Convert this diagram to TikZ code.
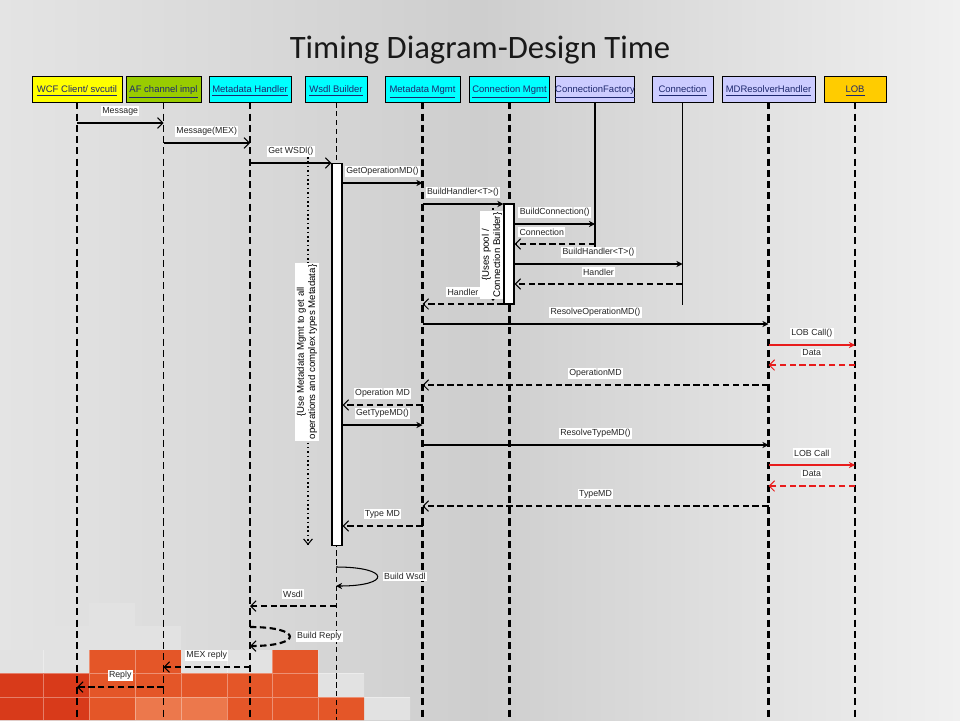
\documentclass[tikz,border=0pt]{standalone}
\usepackage{fontspec}
\setmainfont{Liberation Sans}
\newfontfamily\slidefont{Carlito}
\usetikzlibrary{arrows.meta}
\definecolor{hdrYellow}{RGB}{255,255,0}
\definecolor{hdrGreen}{RGB}{153,204,0}
\definecolor{hdrCyan}{RGB}{0,255,255}
\definecolor{hdrLilac}{RGB}{204,204,255}
\definecolor{hdrGold}{RGB}{255,204,0}
\definecolor{linkText}{RGB}{30,40,110}
\definecolor{bgLeft}{RGB}{228,228,228}
\definecolor{bgMid}{RGB}{206,206,206}
\definecolor{bgRight}{RGB}{240,240,240}
\definecolor{tileLight}{RGB}{226,226,226}
\definecolor{tileRed}{RGB}{216,58,26}
\definecolor{tileOrange}{RGB}{228,86,40}
\definecolor{tilePale}{RGB}{236,120,76}
\definecolor{lobRed}{RGB}{232,28,28}
\tikzset{
    header/.style={draw=black, line width=0.5pt, minimum height=0.52cm, inner sep=0pt,
        text height=3.9pt, text depth=0pt, font=\fontsize{5.4}{6}\selectfont, text=linkText},
    lifeline/.style={line width=1pt, dash pattern=on 4pt off 2.4pt},
    thinlife/.style={line width=0.55pt, dash pattern=on 3pt off 2pt},
    activation/.style={draw=black, fill=white, line width=0.6pt, minimum width=0.2cm, inner sep=0pt},
    call/.style={line width=0.6pt, -{Stealth[length=3.5pt,width=3.5pt]}},
    signal/.style={line width=0.6pt, -{Straight Barb[length=3pt,width=6pt]}},
    reply/.style={line width=1.2pt, dash pattern=on 3.6pt off 2pt,
        -{Straight Barb[length=3pt,width=6pt,line width=0.6pt]}},
    lightreply/.style={line width=0.7pt, dash pattern=on 3.6pt off 2pt,
        -{Straight Barb[length=3pt,width=6pt,line width=0.6pt]}},
    msg/.style={fill=white, inner sep=0.8pt, font=\fontsize{5}{6}\selectfont, text=black!85},
    note/.style={fill=white, inner sep=1pt, align=center, rotate=90,
        font=\fontsize{5.5}{6.4}\selectfont},
    notetrace/.style={line width=0.9pt, dash pattern=on 0.9pt off 1.6pt,
        -{Straight Barb[length=3pt,width=5pt,line width=0.6pt]}}
}
\begin{document}
\begin{tikzpicture}[x=0.02cm, y=-0.02cm]
\useasboundingbox (0,0) rectangle (960,720);
% slide background
\shade[left color=bgLeft, right color=bgRight, middle color=bgMid] (0,0) rectangle (960,720);
\fill[tileLight] (89,603) rectangle +(46,23.5) (43,626) rectangle +(46,24) (89,626) rectangle +(46,24)
    (135,626) rectangle +(46,24) (0,650) rectangle +(43,23) (43,650) rectangle +(46,23)
    (181,650) rectangle +(46,23) (227,650) rectangle +(45,23) (318,673) rectangle +(46,24)
    (364,697) rectangle +(46,23);
\fill[tileOrange] (89,650) rectangle +(46,23) (135,650) rectangle +(46,23) (272,650) rectangle +(46,23)
    (89,673) rectangle +(46,24) (135,673) rectangle +(46,24) (181,673) rectangle +(46,24)
    (227,673) rectangle +(45,24) (272,673) rectangle +(46,24) (89,697) rectangle +(46,23)
    (227,697) rectangle +(45,23) (272,697) rectangle +(46,23) (318,697) rectangle +(46,23);
\fill[tileRed] (0,673) rectangle +(43,24) (43,673) rectangle +(46,24) (0,697) rectangle +(43,23)
    (43,697) rectangle +(46,23);
\fill[tilePale] (135,697) rectangle +(46,23) (181,697) rectangle +(46,23);
\draw[white, opacity=0.35, line width=0.4pt] (0,673) -- (364,673) (0,697) -- (410,697)
    (43,650) -- (43,720) (89,650) -- (89,720) (135,650) -- (135,720) (181,650) -- (181,720)
    (227,650) -- (227,720) (272,650) -- (272,720) (318,650) -- (318,720);

\node[font=\slidefont\fontsize{18.6}{21}\selectfont, text=black!90] (title) at (480,50) {Timing Diagram-Design Time};

% objects
\node[header, fill=hdrYellow, minimum width=1.8cm] (wcf) at (77,89) {\underline{WCF Client/ svcutil}};
\node[header, fill=hdrGreen, minimum width=1.5cm] (af) at (163.5,89) {\underline{AF channel impl}};
\node[header, fill=hdrCyan, minimum width=1.64cm] (mdh) at (250,89) {\underline{Metadata Handler}};
\node[header, fill=hdrCyan, minimum width=1.24cm] (wsdl) at (336,89) {\underline{Wsdl Builder}};
\node[header, fill=hdrCyan, minimum width=1.5cm] (mdm) at (422.5,89) {\underline{Metadata Mgmt}};
\node[header, fill=hdrCyan, minimum width=1.6cm] (cm) at (509.5,89) {\underline{Connection Mgmt}};
\node[header, fill=hdrLilac, minimum width=1.56cm] (cf) at (595,89) {\underline{ConnectionFactory}};
\node[header, fill=hdrLilac, minimum width=1.22cm] (conn) at (682.5,89) {\underline{Connection}};
\node[header, fill=hdrLilac, minimum width=1.86cm] (mdr) at (768.5,89) {\underline{MDResolverHandler}};
\node[header, fill=hdrGold, minimum width=1.24cm] (lob) at (855,89) {\underline{LOB}};

\coordinate (bot) at (0,720);
\coordinate (cfend) at (0,257);
\coordinate (connend) at (0,305);
\draw[lifeline] (wcf) -- (wcf |- bot);
\draw[lifeline] (af) -- (af |- bot);
\draw[lifeline] (mdh) -- (mdh |- bot);
\draw[thinlife] (wsdl) -- (wsdl |- bot);
\draw[lifeline, line width=1.2pt] (mdm) -- (mdm |- bot);
\draw[lifeline, line width=1.2pt] (cm) -- (cm |- bot);
\draw[line width=0.6pt] (cf) -- (cf |- cfend);
\draw[line width=0.6pt] (conn) -- (conn |- connend);
\draw[lifeline, line width=1.2pt] (mdr) -- (mdr |- bot);
\draw[lifeline, line width=1.2pt] (lob) -- (lob |- bot);

% notes
\coordinate (usetop) at (308,157);
\coordinate (usebot) at (308,545);
\draw[notetrace] (usetop) -- (usebot);
\node[note] (usemgmt) at (307,352) {\{Use Metadata Mgmt to get all\\operations and complex types Metadata\}};
\coordinate (pooltop) at (493,208);
\coordinate (poolbot) at (493,301);
\draw[notetrace] (pooltop) -- (poolbot);
\node[note] (usespool) at (492,255) {\{Uses pool /\\Connection Builder\}};

\node[activation, minimum height=7.66cm] (act1) at (337,354.5) {};
\node[activation, minimum height=2cm] (act2) at (509,254) {};

% message rows
\coordinate (m1) at (0,123);  \coordinate (m2) at (0,143);  \coordinate (m3) at (0,163);
\coordinate (m4) at (0,183);  \coordinate (m5) at (0,204);  \coordinate (m6) at (0,224);
\coordinate (m7) at (0,244);  \coordinate (m8) at (0,264);  \coordinate (m9) at (0,284);
\coordinate (m10) at (0,304); \coordinate (m11) at (0,324); \coordinate (m12) at (0,345);
\coordinate (m13) at (0,365); \coordinate (m14) at (0,385); \coordinate (m15) at (0,405);
\coordinate (m16) at (0,425); \coordinate (m17) at (0,445); \coordinate (m18) at (0,465);
\coordinate (m19) at (0,486); \coordinate (m20) at (0,506); \coordinate (m21) at (0,526);
\coordinate (m22) at (0,567); \coordinate (m22b) at (0,586); \coordinate (m23) at (0,606);
\coordinate (m24) at (0,627); \coordinate (m24b) at (0,646); \coordinate (m25) at (0,667);
\coordinate (m26) at (0,687);

\draw[signal] (wcf |- m1) -- node[msg, yshift=0.24cm] {Message} (af |- m1);
\draw[signal] (af |- m2) -- node[msg, yshift=0.24cm] {Message(MEX)} (mdh |- m2);
\draw[signal] (mdh |- m3) -- node[msg, yshift=0.24cm] {Get WSDl()} (act1.west |- m3);
\draw[call] (act1.east |- m4) -- node[msg, yshift=0.24cm] {GetOperationMD()} (mdm |- m4);
\draw[call] (mdm |- m5) -- node[msg, yshift=0.24cm] {BuildHandler<T>()} (act2.west |- m5);
\draw[call] (act2.east |- m6) -- node[msg, yshift=0.24cm] {BuildConnection()} (cf |- m6);
\draw[reply] (cf |- m7) -- node[msg, yshift=0.24cm, xshift=-0.26cm] {Connection} (act2.east |- m7);
\draw[call] (act2.east |- m8) -- node[msg, yshift=0.24cm] {BuildHandler<T>()} (conn |- m8);
\draw[lightreply] (conn |- m9) -- node[msg, yshift=0.24cm] {Handler} (act2.east |- m9);
\draw[reply] (act2.west |- m10) -- node[msg, yshift=0.24cm] {Handler} (mdm |- m10);
\draw[call] (mdm |- m11) -- node[msg, yshift=0.24cm] {ResolveOperationMD()} (mdr |- m11);
\draw[call, lobRed] (mdr |- m12) -- node[msg, yshift=0.24cm] {LOB Call()} (lob |- m12);
\draw[reply, lobRed] (lob |- m13) -- node[msg, yshift=0.24cm] {Data} (mdr |- m13);
\draw[reply] (mdr |- m14) -- node[msg, yshift=0.24cm] {OperationMD} (mdm |- m14);
\draw[reply] (mdm |- m15) -- node[msg, yshift=0.24cm] {Operation MD} (act1.east |- m15);
\draw[call] (act1.east |- m16) -- node[msg, yshift=0.24cm] {GetTypeMD()} (mdm |- m16);
\draw[call] (mdm |- m17) -- node[msg, yshift=0.24cm] {ResolveTypeMD()} (mdr |- m17);
\draw[call, lobRed] (mdr |- m18) -- node[msg, yshift=0.24cm] {LOB Call} (lob |- m18);
\draw[reply, lobRed] (lob |- m19) -- node[msg, yshift=0.24cm] {Data} (mdr |- m19);
\draw[reply] (mdr |- m20) -- node[msg, yshift=0.24cm] {TypeMD} (mdm |- m20);
\draw[reply] (mdm |- m21) -- node[msg, yshift=0.24cm] {Type MD} (act1.east |- m21);
\draw[call] (wsdl |- m22) .. controls +(55,0) and +(55,0) .. (wsdl |- m22b)
    node[msg, pos=0.5, anchor=west, xshift=0.1cm] {Build Wsdl};
\draw[lightreply] (wsdl |- m23) -- node[msg, yshift=0.24cm] {Wsdl} (mdh |- m23);
\draw[reply] (mdh |- m24) .. controls +(53,0) and +(53,0) .. (mdh |- m24b)
    node[msg, pos=0.5, anchor=west, xshift=0.1cm] {Build Reply};
\draw[reply] (mdh |- m25) -- node[msg, yshift=0.24cm] {MEX reply} (af |- m25);
\draw[reply] (af |- m26) -- node[msg, yshift=0.24cm] {Reply} (wcf |- m26);
\end{tikzpicture}
\end{document}
